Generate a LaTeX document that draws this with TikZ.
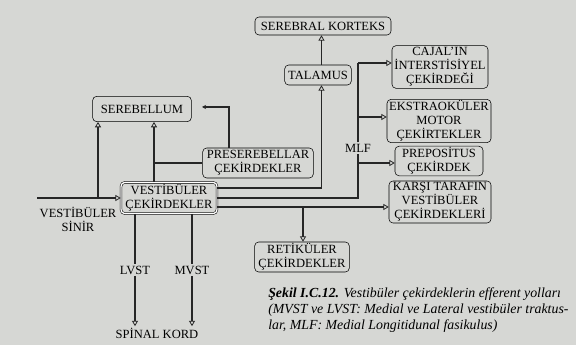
\documentclass[tikz,border=0pt]{standalone}
\usepackage{fontspec}
\setmainfont{Liberation Serif}
\usetikzlibrary{arrows.meta}

\begin{document}
\begin{tikzpicture}[x=0.75pt,y=-0.75pt,
  box node/.style={draw, thin, rounded corners=3pt, align=center, inner sep=1pt,
    font=\fontsize{9.4}{10.4}\selectfont},
  core node/.style={box node, double, double distance=1pt},
  label node/.style={align=center, inner sep=1pt, font=\fontsize{9.4}{10.4}\selectfont},
  link/.style={line width=1.1pt, black!85},
  arr/.style={link, -{Triangle[open, length=4pt, width=4.5pt, line width=0.6pt]}},
  tip/.style={link, -{Stealth[length=3pt, width=3pt]}}]
  \useasboundingbox (0,0) rectangle (576,345);
  \fill[fill={rgb,255:red,214;green,215;blue,212}] (0,0) rectangle (576,345);

  % upper boxes
  \node[box node, minimum width=102pt, minimum height=13.5pt] (korteks) at (323,26) {SEREBRAL KORTEKS};
  \node[box node, minimum width=50pt, minimum height=15pt] (talamus) at (318,75) {TALAMUS};
  \node[box node, minimum width=74pt, minimum height=19pt] (serebellum) at (142,109) {SEREBELLUM};
  \node[box node, minimum width=83pt, minimum height=22.5pt] (preser) at (258,163) {PRESEREBELLAR\\ÇEKİRDEKLER};

  % right column
  \node[box node, minimum width=72pt, minimum height=32pt] (cajal) at (440,67) {CAJAL'IN\\İNTERSTİSİYEL\\ÇEKİRDEĞİ};
  \node[box node, minimum width=78pt, minimum height=31.5pt] (ekstra) at (439,121) {EKSTRAOKÜLER\\MOTOR\\ÇEKİRTEKLER};
  \node[box node, minimum width=66pt, minimum height=21pt] (prepo) at (439,161) {PREPOSİTUS\\ÇEKİRDEK};
  \node[box node, minimum width=76.5pt, minimum height=31.5pt] (karsi) at (440,202) {KARŞI TARAFIN\\VESTİBÜLER\\ÇEKİRDEKLERİ};
  \node[box node, minimum width=71pt, minimum height=22.5pt] (retik) at (302,257) {RETİKÜLER\\ÇEKİRDEKLER};

  % vestibular nuclei and labels
  \node[core node, minimum width=72pt, minimum height=23.5pt] (vest) at (169,198) {VESTİBÜLER\\ÇEKİRDEKLER};
  \node[label node] (sinir) at (78,219) {VESTİBÜLER\\SİNİR};
  \node[label node] (lvst) at (135,270) {LVST};
  \node[label node] (mvst) at (192,270) {MVST};
  \node[label node] (kord) at (157,333) {SPİNAL KORD};
  \node[label node] (mlf) at (358,148) {MLF};

  \coordinate (nerve) at (37,198);
  \coordinate (j1) at (98,198);
  \coordinate (j2) at (154,163);
  \coordinate (j3) at (229,107);
  \coordinate (j4) at (202,107);
  \coordinate (v1) at ([yshift=7.5pt]vest.east);
  \coordinate (v2) at (vest.east);
  \coordinate (v3) at ([yshift=-6.75pt]vest.east);
  \coordinate (m1) at (358,63);
  \coordinate (m2) at (358,117);
  \coordinate (m3) at (358,163);
  \coordinate (m4) at (303,207);

  % connectors
  \draw[arr] (nerve) -- (vest.west);
  \draw[arr] (j1) -- (j1 |- serebellum.south);
  \draw[arr] (j2 |- vest.north) -- (j2 |- serebellum.south);
  \draw[link] (preser.west) -- (j2);
  \draw[tip] (j3 |- preser.north) -- (j3) -- (j4);
  \draw[arr] (v1) -| ([xshift=2.6pt]talamus.south);
  \draw[arr] ([xshift=2.6pt]talamus.north) -- ([xshift=2.6pt]talamus.north |- korteks.south);
  \draw[link] (v2) -| (mlf.south);
  \draw[link] (mlf.north) -- (m1);
  \draw[arr] (m1) -- (m1 -| cajal.west);
  \draw[arr] (m2) -- (m2 -| ekstra.west);
  \draw[arr] (m3) -- (m3 -| prepo.west);
  \draw[arr] (v3) -- (v3 -| karsi.west);
  \draw[arr] (m4) -- (m4 |- retik.north);
  \draw[link] (vest.south -| lvst) -- (lvst.north);
  \draw[link] (vest.south -| mvst) -- (mvst.north);
  \draw[arr] (lvst.south) -- (lvst |- kord.north);
  \draw[arr] (mvst.south) -- (mvst |- kord.north);

  % caption
  \node[anchor=north west, align=left, inner sep=0pt, font=\fontsize{10.4}{12}\selectfont\itshape] (caption) at (268,287)
    {\textbf{Şekil I.C.12.} Vestibüler çekirdeklerin efferent yolları\\
     (MVST ve LVST: Medial ve Lateral vestibüler traktus-\\
     lar, MLF: Medial Longitidunal fasikulus)};
\end{tikzpicture}
\end{document}
